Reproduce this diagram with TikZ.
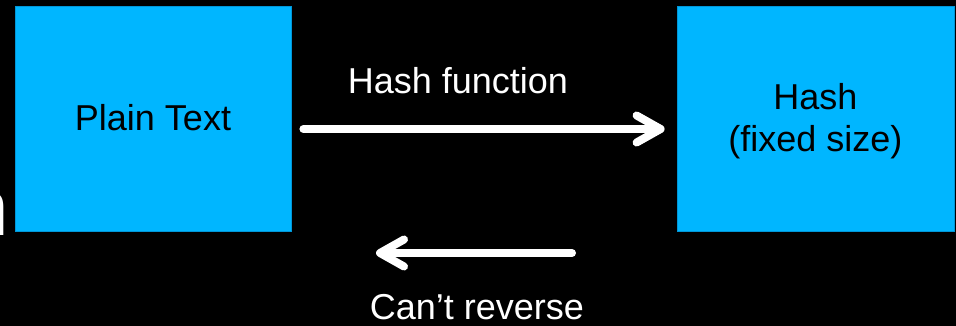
\documentclass[tikz,border=0pt]{standalone}
\usepackage{fontspec}
\setmainfont{Liberation Sans}
\usetikzlibrary{arrows.meta,calc}
\definecolor{boxfill}{RGB}{0,182,255}
\definecolor{boxedge}{RGB}{0,150,215}
\tikzset{
  bluebox/.style={draw=boxedge, line width=0.8pt, fill=boxfill, inner sep=0pt},
  boxtext/.style={text=black, inner sep=0pt, anchor=base, align=center,
    font=\fontsize{36}{42}\selectfont},
  whitelabel/.style={text=white, inner sep=0pt, anchor=base,
    font=\fontsize{36}{42}\selectfont},
  bigarrow/.style={draw=white, line width=8pt, line cap=round,
    -{Straight Barb[length=24pt,width=27pt,round]}}
}
\begin{document}
\begin{tikzpicture}[x=1pt,y=-1pt]
  \fill[black] (0,0) rectangle (956,326);
  \useasboundingbox (0,0) rectangle (956,326);
  \begin{scope}
    \clip (0,0) rectangle (956,326);
    \node[text=white, inner sep=0pt, anchor=base east,
      font=\fontsize{80}{90}\selectfont] (cut) at (9.5,235) {n};
  \end{scope}
  \node[bluebox, minimum width=276pt, minimum height=225pt] (pt) at (153,118.5) {};
  \node[bluebox, minimum width=277pt, minimum height=225pt] (hb) at (815.5,118.5) {};
  \node[boxtext] (ptt) at (153,131) {Plain Text};
  \node[boxtext] (hbt1) at (815.5,110) {Hash};
  \node[boxtext] (hbt2) at (815.5,152) {(fixed size)};
  \node[whitelabel] (hf) at (458,94) {Hash function};
  \node[whitelabel] (cr) at (477,319) {Can’t reverse};
  \draw[bigarrow] ($(pt.east)+(12,10.5)$) -- ($(hb.west)+(-12,10.5)$);
  \coordinate (b1) at (572,253);
  \coordinate (b2) at (376,253);
  \draw[bigarrow] (b1) -- (b2);
\end{tikzpicture}
\end{document}
